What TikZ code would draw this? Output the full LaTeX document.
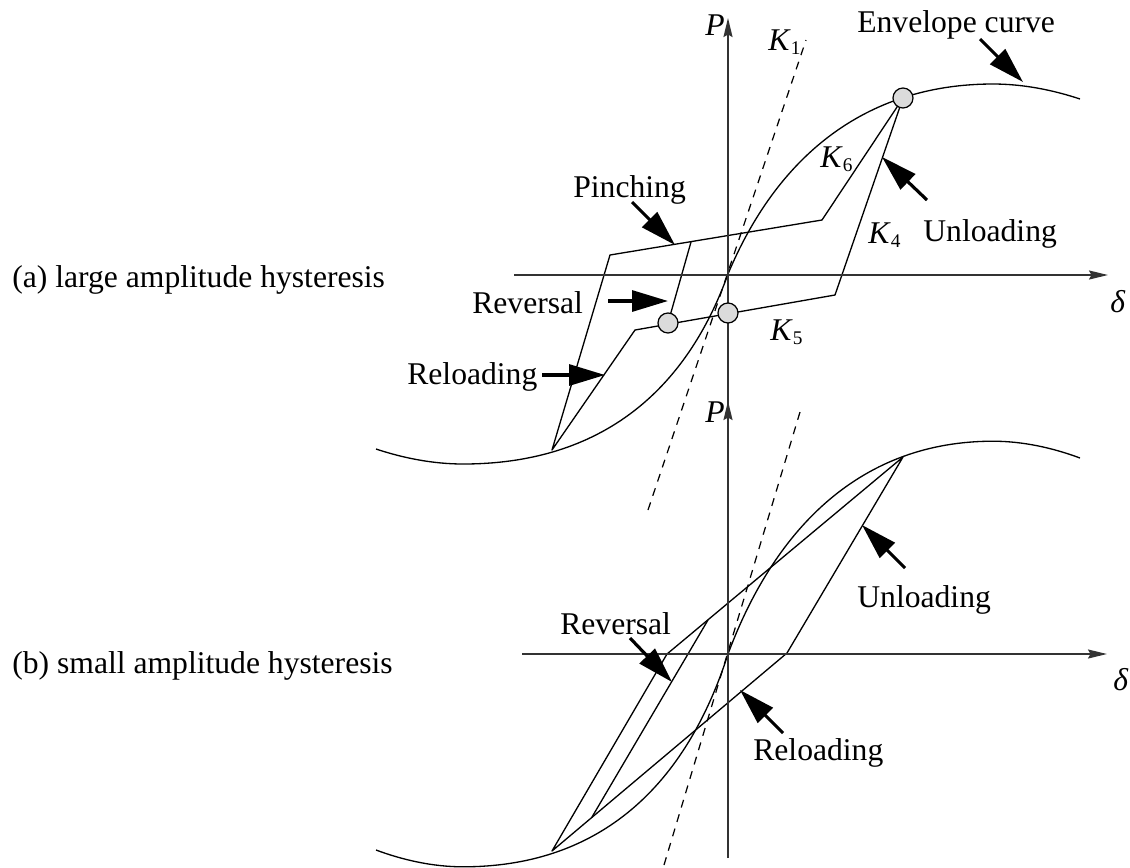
\documentclass[tikz,border=0pt]{standalone}
\usepackage{fontspec}
\setmainfont{Liberation Serif}
\usetikzlibrary{arrows.meta}
\newcommand{\stiff}[1]{\textit{K}\raisebox{-0.08cm}{\fontsize{11}{11}\selectfont #1}}

\begin{document}
\begin{tikzpicture}[
    x=0.02cm, y=-0.02cm,
    every node/.style={font=\fontsize{18}{21}\selectfont, inner sep=0pt},
    word/.style={anchor=base west},
    curve/.style={line width=0.75pt, line join=round},
    axis/.style={line width=1.1pt, draw=black!80, -{Stealth[length=0.38cm, width=0.18cm, inset=0.05cm]}},
    k1line/.style={line width=0.7pt, dash pattern=on 0.16cm off 0.14cm},
    hinge/.style={circle, draw, fill=black!14, minimum size=0.4cm, line width=0.7pt},
    pointer/.style={line width=1.8pt, -{Triangle[length=0.72cm, width=0.42cm]}}
  ]
  \useasboundingbox (0,0) rectangle (1130,867);

  % Envelope curves, upper and lower panel
  \foreach \oy/\sy in {274/1, 654/1.12} {
    \begin{scope}[shift={(728,\oy)}, yscale=-\sy]
      \draw[curve] (-352,-175) .. controls (-325,-184) and (-295,-190) .. (-265,-190)
        .. controls (-135,-190) and (-45,-125) .. (0,0)
        .. controls (48,115) and (135,190) .. (265,190)
        .. controls (295,190) and (325,184) .. (352,175);
    \end{scope}
  }

  % (a) large amplitude hysteresis
  \coordinate (A) at (552,450);
  \coordinate (P1) at (610,255);
  \coordinate (P2) at (822,220);
  \coordinate (B) at (903,98);
  \coordinate (Q1) at (835,295);
  \coordinate (D) at (728,313);
  \coordinate (C) at (668,323);
  \coordinate (Q2) at (635,330);
  \coordinate (R) at (691,242);
  \draw[curve] (A) -- (P1) -- (P2) -- (B) -- (Q1) -- (Q2) -- cycle;
  \draw[curve] (C) -- (R);

  \coordinate (k1a) at (648,510);
  \coordinate (k1b) at (806,40);
  \draw[k1line] (k1a) -- (k1b);

  \coordinate (pa0) at (728,460);
  \coordinate (pa1) at (728,18);
  \coordinate (da0) at (514,275);
  \coordinate (da1) at (1108,275);
  \draw[axis] (pa0) -- (pa1);
  \draw[axis] (da0) -- (da1);

  \node[hinge] (Bn) at (B) {};
  \node[hinge] (Dn) at (D) {};
  \node[hinge] (Cn) at (C) {};

  \node[word] (lblA) at (12,287) {(a) large amplitude hysteresis};
  \node[word] (Pa) at (705,35) {\textit{P}};
  \node[word] (da) at (1110,312) {\textit{δ}};
  \node[word] (K1) at (768,50) {\stiff{1}};
  \node[word] (K6) at (820,167) {\stiff{6}};
  \node[word] (K4) at (868,243) {\stiff{4}};
  \node[word] (K5) at (770,340) {\stiff{5}};
  \node[word] (env) at (857,32) {Envelope curve};
  \node[word] (unlA) at (923,241) {Unloading};
  \node[word] (pin) at (573,197) {Pinching};
  \node[word] (revA) at (472,313) {Reversal};
  \node[word] (relA) at (407,384) {Reloading};

  \coordinate (envT) at (980,39);   \coordinate (envH) at (1023,82);
  \coordinate (unlAT) at (927,200); \coordinate (unlAH) at (882,157);
  \coordinate (pinT) at (632,202);  \coordinate (pinH) at (675,245);
  \coordinate (revAT) at (608,301); \coordinate (revAH) at (668,301);
  \coordinate (relAT) at (542,375); \coordinate (relAH) at (605,375);
  \draw[pointer] (envT) -- (envH);
  \draw[pointer] (unlAT) -- (unlAH);
  \draw[pointer] (pinT) -- (pinH);
  \draw[pointer] (revAT) -- (revAH);
  \draw[pointer] (relAT) -- (relAH);

  % (b) small amplitude hysteresis
  \coordinate (E) at (903,457);
  \coordinate (J) at (787,653);
  \coordinate (F) at (552,851);
  \coordinate (G) at (667,654);
  \coordinate (H) at (708,620);
  \coordinate (I) at (592,817);
  \draw[curve] (E) -- (J) -- (F) -- (G) -- cycle;
  \draw[curve] (I) -- (H);

  \coordinate (k1c) at (664,865);
  \coordinate (k1d) at (800,412);
  \draw[k1line] (k1c) -- (k1d);

  \coordinate (pb0) at (728,858);
  \coordinate (pb1) at (728,401);
  \coordinate (db0) at (522,654);
  \coordinate (db1) at (1107,654);
  \draw[axis] (pb0) -- (pb1);
  \draw[axis] (db0) -- (db1);

  \node[word] (lblB) at (12,673) {(b) small amplitude hysteresis};
  \node[word] (Pb) at (705,422) {\textit{P}};
  \node[word] (db) at (1113,690) {\textit{δ}};
  \node[word] (revB) at (560,634) {Reversal};
  \node[word] (unlB) at (857,607) {Unloading};
  \node[word] (relB) at (753,760) {Reloading};

  \coordinate (revBT) at (630,638); \coordinate (revBH) at (672,682);
  \coordinate (unlBT) at (905,568); \coordinate (unlBH) at (862,525);
  \coordinate (relBT) at (783,733); \coordinate (relBH) at (740,690);
  \draw[pointer] (revBT) -- (revBH);
  \draw[pointer] (unlBT) -- (unlBH);
  \draw[pointer] (relBT) -- (relBH);
\end{tikzpicture}
\end{document}
